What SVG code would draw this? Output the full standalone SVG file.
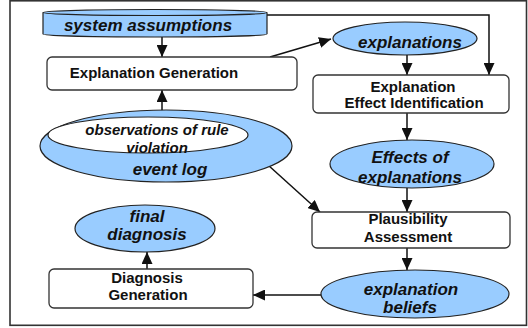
<svg xmlns="http://www.w3.org/2000/svg" width="528" height="328" viewBox="0 0 528 328">
<style>
.box{fill:#fff;stroke:#333;stroke-width:1.3}
.ell{fill:#99ccff;stroke:#222;stroke-width:1.2}
.inner{fill:#fff;stroke:#222;stroke-width:1.2}
.t{font-family:"Liberation Sans",Arial,sans-serif;font-weight:bold;font-size:15px;fill:#111;text-anchor:middle}
.ti{font-family:"Liberation Sans",Arial,sans-serif;font-weight:bold;font-style:italic;font-size:17px;fill:#111;text-anchor:middle}
.c{fill:none;stroke:#111;stroke-width:1.5}
</style>
<defs>
<marker id="ah" markerUnits="userSpaceOnUse" markerWidth="12" markerHeight="11" refX="12" refY="5.5" orient="auto">
<path d="M0,0 L12,5.5 L0,11 z" fill="#111"/>
</marker>
</defs>
<rect x="10" y="0.8" width="516.5" height="324.5" fill="none" stroke="#333" stroke-width="1.6"/>
<g id="connectors">
<path class="c" d="M162,37 L162,57" marker-end="url(#ah)"/>
<path class="c" d="M264,15 L489,15 L489,75" marker-end="url(#ah)"/>
<path class="c" d="M270,57 L331,39" marker-end="url(#ah)"/>
<path class="c" d="M407,55 L407,75" marker-end="url(#ah)"/>
<path class="c" d="M162,117 L162,90" marker-end="url(#ah)"/>
<path class="c" d="M407,113 L407,140" marker-end="url(#ah)"/>
<path class="c" d="M268,165 L320,212" marker-end="url(#ah)"/>
<path class="c" d="M407,188 L407,212" marker-end="url(#ah)"/>
<path class="c" d="M407,248 L407,270" marker-end="url(#ah)"/>
<path class="c" d="M321,295 L253,295" marker-end="url(#ah)"/>
<path class="c" d="M147,269 L147,252" marker-end="url(#ah)"/>
</g>
<g id="system-assumptions">
<path class="ell" d="M43,12.5 L43,34 A112,3 0 0 0 267,34 L267,12.5"/>
<ellipse class="ell" cx="155" cy="12.5" rx="112" ry="3"/>
<text class="ti" x="148" y="31">system assumptions</text>
</g>
<g id="explanation-generation">
<rect class="box" x="47" y="57" width="250" height="33" rx="5"/>
<text class="t" x="154" y="78">Explanation Generation</text>
</g>
<g id="explanations">
<ellipse class="ell" cx="405" cy="38.5" rx="72" ry="16.5"/>
<text class="ti" x="410" y="48">explanations</text>
</g>
<g id="explanation-effect-identification">
<rect class="box" x="313" y="75" width="196" height="38" rx="5"/>
<text class="t" x="413" y="92">Explanation</text>
<text class="t" x="414" y="108">Effect Identification</text>
</g>
<g id="event-log">
<ellipse class="ell" cx="166" cy="146" rx="126" ry="36"/>
<ellipse class="inner" cx="148" cy="135" rx="100" ry="18"/>
<text class="t" style="font-style:italic" x="157" y="135">observations of rule</text>
<text class="t" style="font-style:italic" x="157" y="153">violation</text>
<text class="ti" x="170" y="175">event log</text>
</g>
<g id="effects-of-explanations">
<ellipse class="ell" cx="412" cy="164" rx="82" ry="24"/>
<text class="ti" x="410" y="163">Effects of</text>
<text class="ti" x="410" y="183">explanations</text>
</g>
<g id="plausibility-assessment">
<rect class="box" x="312" y="212" width="198" height="36" rx="5"/>
<text class="t" x="408" y="224">Plausibility</text>
<text class="t" x="408" y="242">Assessment</text>
</g>
<g id="final-diagnosis">
<ellipse class="ell" cx="145" cy="228.5" rx="70" ry="23.5"/>
<text class="ti" x="147" y="222">final</text>
<text class="ti" x="147" y="240">diagnosis</text>
</g>
<g id="diagnosis-generation">
<rect class="box" x="49" y="269" width="204" height="39" rx="5"/>
<text class="t" x="147" y="283">Diagnosis</text>
<text class="t" x="148" y="300">Generation</text>
</g>
<g id="explanation-beliefs">
<ellipse class="ell" cx="415" cy="294" rx="94" ry="24"/>
<text class="ti" x="411" y="295">explanation</text>
<text class="ti" x="410" y="313">beliefs</text>
</g>
</svg>
